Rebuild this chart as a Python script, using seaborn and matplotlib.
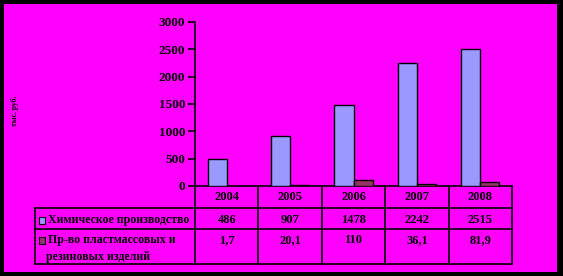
import matplotlib
matplotlib.use("Agg")
import matplotlib.pyplot as plt
import matplotlib.transforms as mtransforms
from matplotlib.lines import Line2D
from matplotlib.patches import Rectangle
import seaborn as sns
import pandas as pd

years = ["2004", "2005", "2006", "2007", "2008"]
chem = [486, 907, 1478, 2242, 2515]
plast = [1.7, 20.1, 110, 36.1, 81.9]
chem_labels = ["486", "907", "1478", "2242", "2515"]
plast_labels = ["1,7", "20,1", "110", "36,1", "81,9"]
series_names = ["Химическое производство", "Пр-во пластмассовых и\nрезиновых изделий"]
colors = ["#9999FF", "#993366"]
yticks = [0, 500, 1000, 1500, 2000, 2500, 3000]
ylabel = "тыс. руб."

df = pd.DataFrame({
    "year": years * 2,
    "value": chem + plast,
    "series": [series_names[0]] * 5 + [series_names[1]] * 5,
})

sns.set_theme(style="white")
plt.rcParams["font.family"] = ["Liberation Serif", "DejaVu Serif"]
plt.rcParams["font.weight"] = "bold"

W, H = 563, 276
fig = plt.figure(figsize=(W / 100, H / 100), dpi=100)
fig.patch.set_facecolor("black")

def fx(px):
    return px / W

def fy(py):
    return 1 - py / H

fig.add_artist(Rectangle((fx(4), fy(272)), fx(557) - fx(4), fy(4) - fy(272),
                         transform=fig.transFigure, facecolor="#FF00FF",
                         edgecolor="none", zorder=0))

ax_l, ax_r, ax_t, ax_b = 195, 512, 22, 186
ax = fig.add_axes([fx(ax_l), fy(ax_b), fx(ax_r) - fx(ax_l), fy(ax_t) - fy(ax_b)])
ax.set_facecolor("none")

sns.barplot(data=df, x="year", y="value", hue="series", palette=colors,
            saturation=1, width=0.6, edgecolor="black", linewidth=1, ax=ax,
            legend=False, zorder=3)
ax.set_xlim(-0.5, 4.5)
ax.set_ylim(0, 3000)
ax.set_yticks(yticks)
ax.set_yticklabels([str(t) for t in yticks], fontsize=9.5, fontweight="bold")
ax.set_xticks([])
ax.set_xlabel("")
ax.set_ylabel("")
for s in ["top", "right"]:
    ax.spines[s].set_visible(False)
for s in ["left", "bottom"]:
    ax.spines[s].set_color("black")
    ax.spines[s].set_linewidth(1.2)
ax.tick_params(axis="y", direction="out", length=5, width=1.2, color="black",
               left=True, pad=2, labelcolor="black")

fig.text(fx(15), fy(111), ylabel, rotation=90, fontsize=5.5, fontweight="bold",
         ha="center", va="center", color="black")

# table
bt = mtransforms.blended_transform_factory(ax.transData, fig.transFigure)
lw = 1.2
row_y = [186, 208, 229, 264]
for i in range(6):
    x = i - 0.5
    ax.add_line(Line2D([x, x], [fy(186), fy(264)], transform=bt, color="black",
                       lw=lw, clip_on=False))
fig.add_artist(Line2D([fx(35), fx(35)], [fy(208), fy(264)], transform=fig.transFigure,
                      color="black", lw=lw))
for yy in row_y[1:]:
    fig.add_artist(Line2D([fx(35), fx(ax_r)], [fy(yy), fy(yy)], transform=fig.transFigure,
                          color="black", lw=lw))

for i, yr in enumerate(years):
    ax.text(i, fy(197), yr, transform=bt, ha="center", va="center", fontsize=9,
            fontweight="bold", color="black")
    ax.text(i, fy(220), chem_labels[i], transform=bt, ha="center", va="center",
            fontsize=9, fontweight="bold", color="black")
    ax.text(i, fy(240), plast_labels[i], transform=bt, ha="center", va="center",
            fontsize=9, fontweight="bold", color="black")

for name, c, ky in zip(series_names, colors, [220, 240]):
    fig.add_artist(Rectangle((fx(39), fy(ky + 3.5)), fx(45.5) - fx(39), fy(ky - 3) - fy(ky + 3.5),
                             transform=fig.transFigure, facecolor=c,
                             edgecolor="black", lw=0.8))
fig.text(fx(48), fy(220), series_names[0], ha="left", va="center", fontsize=8.6,
         fontweight="bold", color="black")
l1, l2 = series_names[1].split("\n")
fig.text(fx(48), fy(240), l1, ha="left", va="center", fontsize=8.6,
         fontweight="bold", color="black")
fig.text(fx(46), fy(257), l2, ha="left", va="center", fontsize=8.6,
         fontweight="bold", color="black")

fig.savefig("out.png", dpi=100, facecolor=fig.get_facecolor())
